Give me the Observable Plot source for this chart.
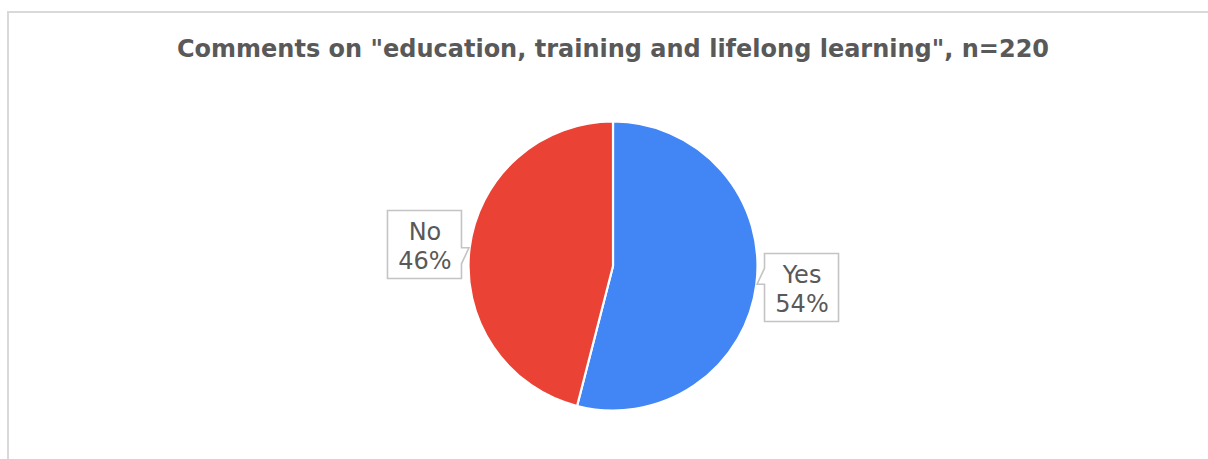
<!DOCTYPE html>
<html><head><meta charset="utf-8">
<script src="https://cdn.jsdelivr.net/npm/d3@7"></script>
<script src="https://cdn.jsdelivr.net/npm/@observablehq/plot@0.6"></script>
<style>
body{margin:0;background:#fff;}
#wrap{position:relative;width:1208px;height:459px;overflow:hidden;font-family:"DejaVu Sans",Verdana,sans-serif;}
#frame{position:absolute;left:7px;top:11px;width:1300px;height:600px;border-top:2px solid #d9d9d9;border-left:2px solid #d9d9d9;}
#title{position:absolute;left:0;top:35px;width:1226px;text-align:center;font-weight:bold;font-size:24px;line-height:28px;color:#595959;white-space:nowrap;}
#chart{position:absolute;left:0;top:80px;}
</style></head><body>
<div id="wrap"><div id="frame"></div><div id="title"></div><div id="chart"></div></div>
<script>
const titleText = 'Comments on "education, training and lifelong learning", n=220';
const categories = ["Yes", "No"];
const values = [54, 46];
const colors = ["#4285F4", "#EA4335"];

document.getElementById("title").textContent = titleText;

const data = categories.map((c, i) => ({category: c, value: values[i]}));
const arcs = d3.pie().sort(null).value(d => d.value)(data);
const slices = arcs.map(a => {
  const mid = (a.startAngle + a.endAngle) / 2;
  return {...a.data, startAngle: a.startAngle, endAngle: a.endAngle, mid};
});
const color = Plot.scale({color: {type: "ordinal", domain: categories, range: colors}});

const R = 144.5, CX = 613, CY = 186;
const labelRx = 1.315, labelRy = 1.19, tipR = 1.005;
const boxW = 74, boxH = 68;

function pieMark(index, scales) {
  const cx = scales.x(0), cy = scales.y(0), r = scales.x(1) - cx;
  const g = d3.create("svg:g").attr("transform", `translate(${cx},${cy})`);
  const arc = d3.arc().innerRadius(0).outerRadius(r);
  g.selectAll("path").data(slices).join("path")
    .attr("d", d => arc(d))
    .attr("fill", d => color.apply(d.category))
    .attr("stroke", "white").attr("stroke-width", 2.2).attr("stroke-linejoin", "round");
  return g.node();
}

function calloutMark(index, scales) {
  const cyPie = scales.y(0);
  const g = d3.create("svg:g");
  for (const s of slices) {
    const bx = scales.x(labelRx * Math.sin(s.mid)), by = scales.y(labelRy * Math.cos(s.mid));
    const tx = scales.x(tipR * Math.sin(s.mid)), ty = scales.y(tipR * Math.cos(s.mid));
    const L = bx - boxW / 2, Rr = bx + boxW / 2, T = by - boxH / 2, B = by + boxH / 2;
    let b1 = ty, b2 = ty + 16 * Math.sign(cyPie - ty || 1);
    let lo = Math.max(T + 3, Math.min(b1, b2)), hi = Math.min(B - 3, Math.max(b1, b2));
    let pts;
    if (tx < bx) {
      pts = [[L, T], [Rr, T], [Rr, B], [L, B], [L, hi], [tx, ty], [L, lo]];
    } else {
      pts = [[L, T], [Rr, T], [Rr, lo], [tx, ty], [Rr, hi], [Rr, B], [L, B]];
    }
    g.append("path")
      .attr("d", "M" + pts.map(p => p.join(",")).join("L") + "Z")
      .attr("fill", "white").attr("stroke", "#c4c4c4").attr("stroke-width", 1.6)
      .attr("stroke-linejoin", "miter");
  }
  return g.node();
}

const chart = Plot.plot({
  width: 1208,
  height: 379,
  margin: 0,
  x: {domain: [-1, 1], range: [CX - R, CX + R], axis: null},
  y: {domain: [-1, 1], range: [CY + R, CY - R], axis: null},
  style: {background: "transparent", fontFamily: "DejaVu Sans, Verdana, sans-serif"},
  marks: [
    pieMark,
    calloutMark,
    Plot.text(slices, {
      x: d => labelRx * Math.sin(d.mid),
      y: d => labelRy * Math.cos(d.mid),
      text: d => `${d.category}\n${d.value}%`,
      fontSize: 24,
      lineHeight: 1.2,
      fill: "#595959",
      textAnchor: "middle",
      lineAnchor: "middle"
    })
  ]
});
document.getElementById("chart").appendChild(chart);
</script>
</body></html>
